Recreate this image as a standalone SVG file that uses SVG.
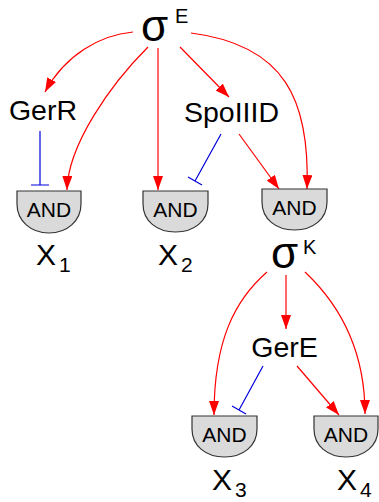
<svg xmlns="http://www.w3.org/2000/svg" width="379" height="502" viewBox="0 0 379 502">
<defs>
<style>
text{font-family:"Liberation Sans",Arial,sans-serif;fill:#000}
.act{fill:none;stroke:#ff0000;stroke-width:1.2}
.inh{fill:none;stroke:#0000dd;stroke-width:1.2}
.gate{fill:#dadada;stroke:#333;stroke-width:1.2}
.and{font-size:21px;text-anchor:middle}
.lbl{font-size:28.5px;text-anchor:middle}
.sig{font-size:44px}
.sup{font-size:20px}
.x{font-size:30px}
.sub{font-size:21px}
</style>
<marker id="ah" markerUnits="userSpaceOnUse" markerWidth="14" markerHeight="10" refX="14" refY="5" orient="auto" viewBox="0 0 14 10">
<path d="M0,0 L14,5 L0,10 Z" fill="#ff0000"/>
</marker>
</defs>

<g id="connectors">
<path class="act" marker-end="url(#ah)" d="M133,32 C100,35 65,55 45,92"/>
<path class="act" marker-end="url(#ah)" d="M148,47 C110,85 68,145 67,190"/>
<path class="act" marker-end="url(#ah)" d="M158,48 V190"/>
<path class="act" marker-end="url(#ah)" d="M180,47 L229,97"/>
<path class="act" marker-end="url(#ah)" d="M191,33 C285,45 310,100 307,189"/>
<path class="inh" d="M40,131 V185 M31,185 H49"/>
<path class="inh" d="M221,134 L195,181 M188,177 L202,185"/>
<path class="act" marker-end="url(#ah)" d="M239,134 L279,189"/>
<path class="act" marker-end="url(#ah)" d="M267,272 C235,300 214,340 214,415"/>
<path class="act" marker-end="url(#ah)" d="M286,275 V329"/>
<path class="act" marker-end="url(#ah)" d="M305,272 C340,305 365,350 365,414"/>
<path class="inh" d="M263,366 L239,410 M232,406 L246,414"/>
<path class="act" marker-end="url(#ah)" d="M297,366 L339,415"/>
</g>

<g id="sigmaE">
<text class="sig" x="141" y="41">σ</text>
<text class="sup" x="175" y="23">E</text>
</g>
<g id="GerR"><text class="lbl" x="43" y="120">GerR</text></g>
<g id="SpoIIID"><text class="lbl" x="231.5" y="122">SpoIIID</text></g>

<g id="and1">
<path class="gate" d="M17,191 H81 V204 C81,221 67,233 49,233 C31,233 17,221 17,204 Z"/>
<text class="and" x="49" y="217">AND</text>
</g>
<g id="and2">
<path class="gate" d="M143,191 H208 V204 C208,221 194,232 175.5,232 C157,232 143,221 143,204 Z"/>
<text class="and" x="175.5" y="217">AND</text>
</g>
<g id="and3">
<path class="gate" d="M262,189 H327 V202 C327,219 313,230 294.5,230 C276,230 262,219 262,202 Z"/>
<text class="and" x="294.5" y="215">AND</text>
</g>

<g id="X1"><text class="x" x="36" y="265">X<tspan class="sub" dx="3" dy="7">1</tspan></text></g>
<g id="X2"><text class="x" x="158" y="265">X<tspan class="sub" dx="3" dy="7">2</tspan></text></g>

<g id="sigmaK">
<text class="sig" x="271" y="268">σ</text>
<text class="sup" x="303" y="254">K</text>
</g>
<g id="GerE"><text class="lbl" x="284.5" y="357">GerE</text></g>

<g id="and4">
<path class="gate" d="M192,416 H257 V429 C257,446 243,457 224.5,457 C206,457 192,446 192,429 Z"/>
<text class="and" x="224.5" y="442">AND</text>
</g>
<g id="and5">
<path class="gate" d="M314,416 H378 V429 C378,446 364,457 346,457 C328,457 314,446 314,429 Z"/>
<text class="and" x="346" y="442">AND</text>
</g>

<g id="X3"><text class="x" x="212" y="490">X<tspan class="sub" dx="3" dy="7">3</tspan></text></g>
<g id="X4"><text class="x" x="337" y="490">X<tspan class="sub" dx="3" dy="7">4</tspan></text></g>
</svg>
